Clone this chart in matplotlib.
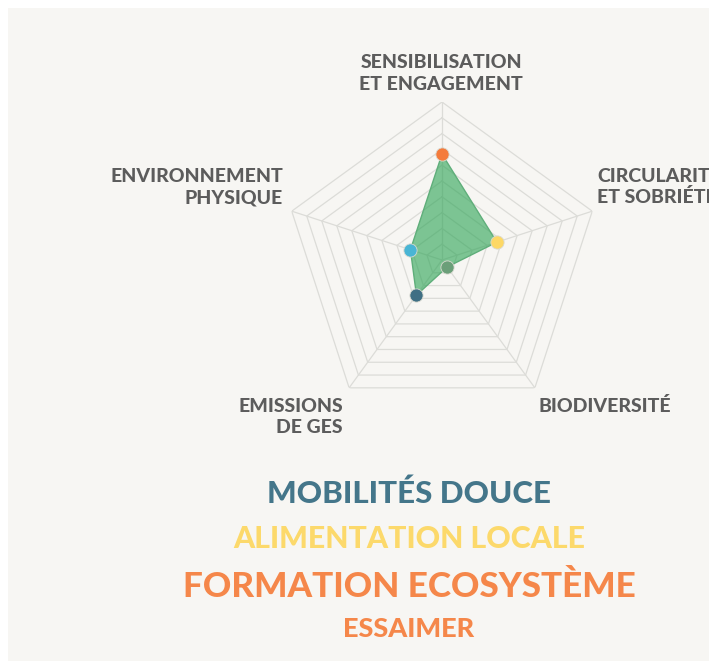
import numpy as np
import matplotlib.pyplot as plt
from matplotlib.patches import Rectangle

# axes, clockwise from the top
axes_top = ['SENSIBILISATION\nET ENGAGEMENT', 'CIRCULARITÉ\nET SOBRIÉTÉ', 'BIODIVERSITÉ',
            'EMISSIONS\nDE GES', 'ENVIRONNEMENT\nPHYSIQUE']
scores = [6.7, 3.65, 0.55, 2.75, 2.1]
point_colors = ['#f47b3b', '#fdd866', '#6b9f79', '#3f6f84', '#49b5d5']
n_rings = 10

actions = ['MOBILITÉS DOUCE', 'ALIMENTATION LOCALE', 'FORMATION ECOSYSTÈME', 'ESSAIMER']
action_colors = ['#44768a', '#fcd96b', '#f5874a', '#f5874a']

W, H = 709, 661
fig = plt.figure(figsize=(W / 100, H / 100), dpi=100, facecolor='white')
fig.add_artist(Rectangle((8 / W, 0), 1, 1 - 8 / H, transform=fig.transFigure,
                         facecolor='#f7f6f3', edgecolor='none', zorder=0))

cx, cy, R = 442, 260, 158
ax = fig.add_axes([(cx - R) / W, (H - cy - R) / H, 2 * R / W, 2 * R / H], projection='polar')
ax.set_theta_offset(np.pi / 2)
ax.set_theta_direction(-1)
ax.set_ylim(0, n_rings)
ax.patch.set_alpha(0)
ax.spines['polar'].set_visible(False)
ax.grid(False)
ax.set_xticks([])
ax.set_yticks([])

theta = np.linspace(0, 2 * np.pi, len(axes_top), endpoint=False)
closed = np.append(theta, theta[0])
grid_col = '#dcdcd8'
for r in range(1, n_rings + 1):
    ax.plot(closed, [r] * len(closed), color=grid_col, lw=0.9, zorder=1)
for t in theta:
    ax.plot([t, t], [0, n_rings], color=grid_col, lw=0.9, zorder=1)

vals = np.append(scores, scores[0])
ax.fill(closed, vals, color='#2aa353', alpha=0.6, lw=0, zorder=2)
ax.plot(closed, vals, color='#5fae7a', lw=1, zorder=3)
for t, v, c in zip(theta, scores, point_colors):
    ax.plot(t, v, 'o', ms=9.5, color=c, mec='#d9d9d0', mew=0.6, zorder=4)

font = 'Lato'
lab_col = '#5c5c5c'


def ftext(x, y, s, **kw):
    fig.text(x / W, 1 - y / H, s, family=font, fontweight=900, va='baseline', **kw)


# axis labels (two-line labels are placed line by line)
ftext(441, 68, 'SENSIBILISATION', ha='center', size=14, color=lab_col)
ftext(441, 90, 'ET ENGAGEMENT', ha='center', size=14, color=lab_col)
ftext(597, 182, 'CIRCULARITÉ', ha='left', size=14, color=lab_col)
ftext(597, 203, 'ET SOBRIÉTÉ', ha='left', size=14, color=lab_col)
ftext(539, 412, 'BIODIVERSITÉ', ha='left', size=14, color=lab_col)
ftext(343, 412, 'EMISSIONS', ha='right', size=14, color=lab_col)
ftext(343, 433, 'DE GES', ha='right', size=14, color=lab_col)
ftext(283, 182, 'ENVIRONNEMENT', ha='right', size=14, color=lab_col)
ftext(283, 203, 'PHYSIQUE', ha='right', size=14, color=lab_col)

sizes = [22.5, 21.8, 25.3, 19.5]
baselines = [503, 548, 597, 637]
for s, c, sz, yb in zip(actions, action_colors, sizes, baselines):
    ftext(409, yb, s, ha='center', size=sz, color=c)

fig.savefig('out.png', dpi=100, facecolor='white')
